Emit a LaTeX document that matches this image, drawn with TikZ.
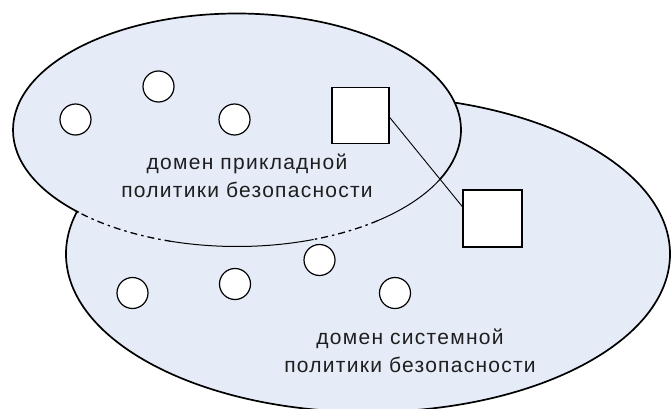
\documentclass[tikz,border=0pt]{standalone}
\usepackage{fontspec}
\setmainfont{Liberation Sans}
\newfontfamily\lblfont[LetterSpace=6]{Liberation Sans}
\definecolor{domfill}{RGB}{229,236,248}
\definecolor{lbltext}{RGB}{30,30,30}
\begin{document}
\begin{tikzpicture}[x=1pt,y=-1pt,
  outline/.style={line width=1.7pt, draw=black},
  innerline/.style={line width=1pt, draw=black},
  hiddenline/.style={line width=1.3pt, draw=black, dash pattern=on 7pt off 4pt on 2.5pt off 4pt},
  hole/.style={circle, draw=black, line width=1.2pt, fill=white, minimum size=31pt, inner sep=0pt},
  obj/.style={rectangle, draw=black, line width=1.5pt, fill=white, minimum width=57pt, minimum height=56pt, inner sep=0pt},
  lbl/.style={font=\lblfont\fontsize{21}{28}\selectfont, align=center, text=lbltext},
]
\useasboundingbox (0,0) rectangle (671,409);
\fill[white] (0,0) rectangle (671,409);
% lower domain (system policy)
\begin{scope}
\clip (0,0) rectangle (671,409);
\path[fill=domfill, outline] (368,254) ellipse [x radius=302, y radius=158];
\end{scope}
% upper domain (application policy)
\path[fill=domfill] (237,130) ellipse [x radius=224, y radius=116.5];
\draw[outline] (237,130) ++(135:224 and 116.5) arc [start angle=135, end angle=347, x radius=224, y radius=116.5];
\draw[outline] (237,130) ++(-13:224 and 116.5) arc [start angle=-13, end angle=25, x radius=224, y radius=116.5];
\draw[innerline] (237,130) ++(25:224 and 116.5) arc [start angle=25, end angle=51, x radius=224, y radius=116.5];
\draw[hiddenline] (237,130) ++(51:224 and 116.5) arc [start angle=51, end angle=70, x radius=224, y radius=116.5];
\draw[innerline] (237,130) ++(70:224 and 116.5) arc [start angle=70, end angle=107, x radius=224, y radius=116.5];
\draw[hiddenline] (237,130) ++(107:224 and 116.5) arc [start angle=107, end angle=135, x radius=224, y radius=116.5];
% objects of the application domain
\node[hole] (a1) at (75.5,119.5) {};
\node[hole] (a2) at (158.5,86.5) {};
\node[hole] (a3) at (234.5,119.5) {};
% objects of the system domain
\node[hole] (b1) at (132.5,293) {};
\node[hole] (b2) at (235,284) {};
\node[hole] (b3) at (319.5,260) {};
\node[hole] (b4) at (395,293) {};
% shared objects
\node[obj] (s1) at (360.5,115.5) {};
\node[obj, minimum width=59pt, minimum height=57pt] (s2) at (492.5,218.5) {};
\draw[line width=0.9pt] ([yshift=-2pt]s1.east) -- ([yshift=12pt]s2.west);
% labels
\node[lbl] (l1) at (247,176) {домен прикладной\\политики безопасности};
\node[lbl] (l2) at (410,351) {домен системной\\политики безопасности};
\end{tikzpicture}
\end{document}
